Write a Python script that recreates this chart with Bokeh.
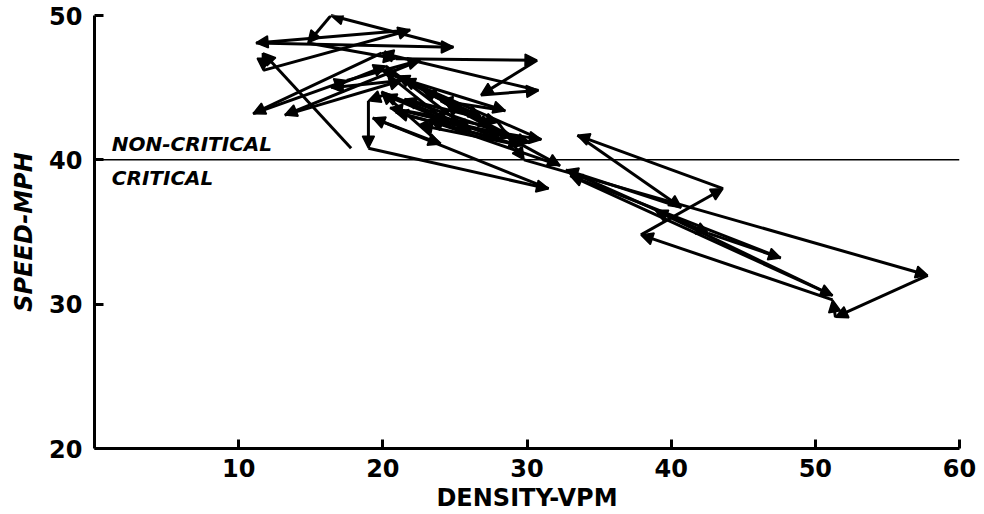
from bokeh.plotting import figure
from bokeh.models import Range1d, FixedTicker, Arrow, NormalHead, ColumnDataSource, Label, Span
from bokeh.embed import file_html
from bokeh.resources import INLINE

# Trajectory of (density, speed) observations, in time order
density = [17.8, 11.7, 11.7, 21.9, 11.2, 24.9, 16.4, 14.8, 20.9, 30.7,
           26.8, 30.8, 19.9, 11.0, 17.5, 22.6, 13.2, 21.3, 16.4, 20.2,
           26.1, 20.1, 19.0, 19.0, 31.5, 19.3, 24.0, 19.9, 28.2, 20.9,
           29.6, 22.6, 25.4, 21.4, 28.5, 24.0, 32.3, 23.3, 31.0,
           21.0, 27.5, 20.5, 29.0, 22.8, 26.8, 20.0, 24.5, 30.2, 21.5, 28.0,
           29.8,
           57.8, 51.4, 51.2, 37.9, 43.6, 33.5, 40.7, 32.7, 42.6, 47.6,
           33.0, 51.2, 38.9]
speed = [40.8, 47.4, 46.2, 49.0, 48.1, 47.8, 50.0, 48.1, 47.0, 46.9,
         44.5, 44.8, 47.4, 43.2, 45.5, 46.9, 43.1, 45.5, 45.0, 46.5,
         42.0, 44.5, 44.1, 40.8, 38.0, 42.9, 41.1, 44.7, 41.4, 43.3,
         41.0, 42.4, 43.8, 45.6, 43.4, 44.1, 39.6, 42.7, 41.4,
         45.8, 42.3, 43.6, 41.6, 44.8, 43.0, 46.2, 42.6, 41.2, 44.2, 42.6,
         40.0,
         32.0, 29.1, 30.3, 34.8, 38.0, 41.7, 36.7, 39.3, 34.9, 33.2,
         38.9, 30.6, 36.5]

x_ticks = [10, 20, 30, 40, 50, 60]
y_ticks = [20, 30, 40, 50]
critical_speed = 40

p = figure(width=984, height=514, output_backend="svg", toolbar_location=None,
           x_range=Range1d(0, 60), y_range=Range1d(20, 50),
           min_border_left=94, min_border_right=25, min_border_top=15, min_border_bottom=65)
p.outline_line_color = None
p.xgrid.visible = False
p.ygrid.visible = False
p.background_fill_color = "white"
p.border_fill_color = "white"

for ax in (p.xaxis[0], p.yaxis[0]):
    ax.axis_line_width = 3
    ax.axis_line_color = "black"
    ax.major_tick_line_width = 3
    ax.major_tick_line_color = "black"
    ax.major_tick_in = 9
    ax.major_tick_out = 0
    ax.minor_tick_line_color = None
    ax.major_label_text_font = "DejaVu Sans"
    ax.major_label_text_font_style = "bold"
    ax.major_label_text_font_size = "24px"
    ax.major_label_text_color = "black"
    ax.axis_label_text_font = "DejaVu Sans"
    ax.axis_label_text_font_style = "bold"
    ax.axis_label_text_font_size = "24px"
    ax.axis_label_text_color = "black"

p.xaxis.ticker = FixedTicker(ticks=x_ticks)
p.yaxis.ticker = FixedTicker(ticks=y_ticks)
p.xaxis.major_label_standoff = 10
p.yaxis.major_label_standoff = 12
p.xaxis.axis_label = "DENSITY-VPM"
p.yaxis.axis_label = "SPEED-MPH"
p.yaxis.axis_label_text_font_style = "bold italic"
p.xaxis.axis_label_standoff = 4
p.yaxis.axis_label_standoff = 8

p.add_layout(Span(location=critical_speed, dimension="width", line_color="black", line_width=1.5))

src = ColumnDataSource(dict(x0=density[:-1], y0=speed[:-1], x1=density[1:], y1=speed[1:]))
p.add_layout(Arrow(source=src, x_start="x0", y_start="y0", x_end="x1", y_end="y1",
                   line_color="black", line_width=3,
                   end=NormalHead(size=12, fill_color="black", line_color="black", line_width=1.5)))

p.add_layout(Label(x=1.2, y=40.25, text="NON-CRITICAL", text_baseline="bottom", text_color="black",
                   text_font="DejaVu Sans", text_font_style="bold italic", text_font_size="20px"))
p.add_layout(Label(x=1.2, y=39.55, text="CRITICAL", text_baseline="top", text_color="black",
                   text_font="DejaVu Sans", text_font_style="bold italic", text_font_size="20px"))

open("out.html", "w").write(file_html(p, INLINE))
